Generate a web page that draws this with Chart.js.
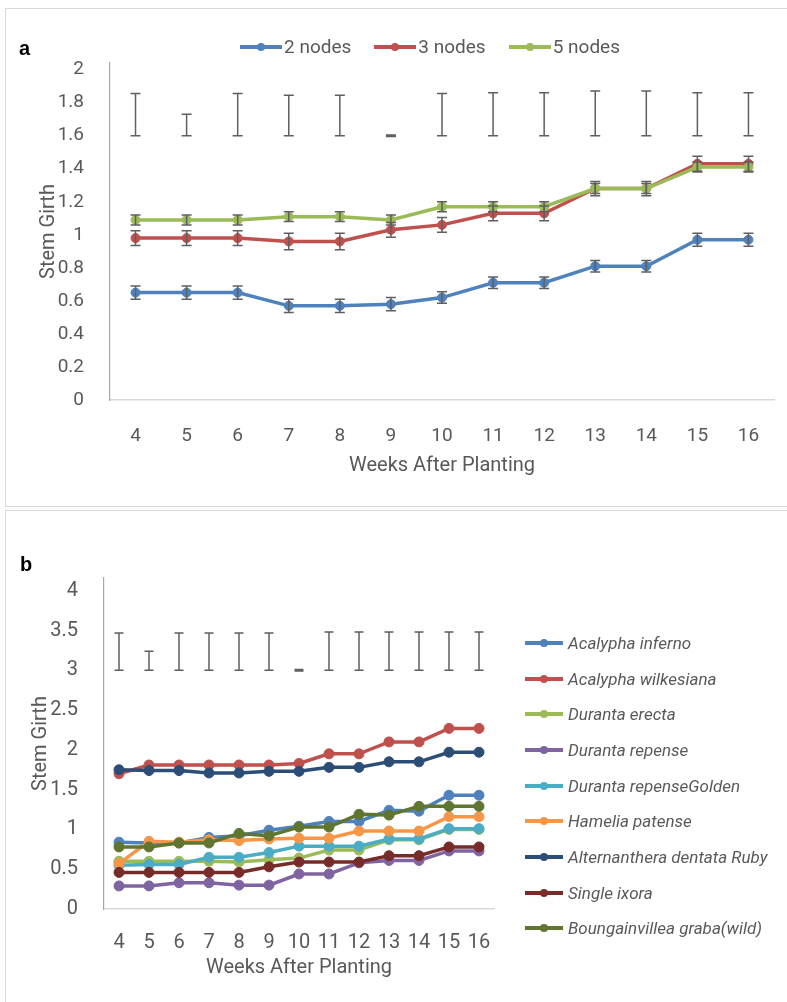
<!DOCTYPE html>
<html>
<head>
<meta charset="utf-8">
<title>Stem Girth</title>
<script src="https://cdn.jsdelivr.net/npm/chart.js@4.4.1/dist/chart.umd.min.js"></script>
<style>
    body { margin: 0; background: #fff; font-family: Roboto, sans-serif; }
    .page { position: relative; width: 787px; height: 1002px; overflow: hidden; }
    .panel { position: absolute; left: 5px; right: -10px; border: 1px solid #d9d9d9; }
    #panelA { top: 8px; height: 497px; }
    #panelB { top: 510px; height: 520px; }
    .box { position: absolute; left: 0; width: 787px; }
    #boxA { top: 0; height: 505px; }
    #boxB { top: 510px; height: 492px; }
    .tag { position: absolute; font: bold 20px "Liberation Sans", Arial, sans-serif; line-height: 20px; color: #000; }
    .legend { position: absolute; color: #595959; }
    .item { display: flex; align-items: center; white-space: nowrap; }
    .mark { position: relative; height: 10px; flex: none; }
    .mark i { position: absolute; left: 0; right: 0; top: 3px; height: 4px; }
    .mark b { position: absolute; top: 1px; width: 8px; height: 8px; border-radius: 50%; }
    #legendA { left: 240px; top: 36px; display: flex; gap: 23px; font-size: 19px; line-height: 22px; }
    #legendA .mark { width: 42px; margin-right: 2px; }
    #legendA .mark b { left: 17px; }
    #legendB { left: 525px; top: 625px; font-size: 17px; font-style: italic; }
    #legendB .item { height: 35.7px; }
    #legendB .mark { width: 38px; margin-right: 5px; }
    #legendB .mark b { left: 15px; }
</style>
</head>
<body>
<div class="page">
    <div class="panel" id="panelA"></div>
    <div class="panel" id="panelB"></div>
    <div class="box" id="boxA"><canvas id="chartA"></canvas></div>
    <div class="box" id="boxB"><canvas id="chartB"></canvas></div>
    <div class="tag" style="left:19px; top:38px;">a</div>
    <div class="tag" style="left:20px; top:554px;">b</div>
    <div class="legend" id="legendA"></div>
    <div class="legend" id="legendB"></div>
</div>
<script>
// ---- data: panel a (node number) ----
const weeks = ['4', '5', '6', '7', '8', '9', '10', '11', '12', '13', '14', '15', '16'];
const nodeNames = ['2 nodes', '3 nodes', '5 nodes'];
const nodeColors = ['#4F81BD', '#C0504D', '#9BBB59'];
const girth2Nodes = [0.65, 0.65, 0.65, 0.57, 0.57, 0.58, 0.62, 0.71, 0.71, 0.81, 0.81, 0.97, 0.97];
const girth3Nodes = [0.98, 0.98, 0.98, 0.96, 0.96, 1.03, 1.06, 1.13, 1.13, 1.28, 1.28, 1.43, 1.43];
const girth5Nodes = [1.09, 1.09, 1.09, 1.11, 1.11, 1.09, 1.17, 1.17, 1.17, 1.28, 1.28, 1.41, 1.41];
const err2Nodes = [0.04, 0.04, 0.04, 0.04, 0.04, 0.04, 0.035, 0.035, 0.035, 0.035, 0.035, 0.04, 0.04];
const err3Nodes = [0.045, 0.045, 0.045, 0.05, 0.05, 0.045, 0.045, 0.045, 0.045, 0.043, 0.043, 0.045, 0.045];
const err5Nodes = [0.03, 0.03, 0.03, 0.03, 0.03, 0.03, 0.03, 0.03, 0.03, 0.03, 0.03, 0.03, 0.03];
const lsdBaseA = 1.6;
const lsdA = [0.255, 0.13, 0.255, 0.245, 0.245, 0, 0.255, 0.26, 0.26, 0.27, 0.27, 0.26, 0.26];
const yTicksA = [0, 0.2, 0.4, 0.6, 0.8, 1, 1.2, 1.4, 1.6, 1.8, 2];

// ---- data: panel b (species) ----
const species = ['Acalypha inferno', 'Acalypha wilkesiana', 'Duranta erecta', 'Duranta repense',
    'Duranta repenseGolden', 'Hamelia patense', 'Alternanthera dentata Ruby', 'Single ixora',
    'Boungainvillea graba(wild)'];
const speciesColors = ['#4F81BD', '#C0504D', '#9BBB59', '#8064A2', '#4BACC6', '#F79646', '#2C4D75', '#772C2A', '#5F7530'];
const acalyphaInferno = [0.84, 0.83, 0.83, 0.90, 0.92, 0.99, 1.04, 1.10, 1.10, 1.24, 1.23, 1.43, 1.43];
const acalyphaWilkesiana = [1.70, 1.81, 1.81, 1.81, 1.81, 1.81, 1.83, 1.95, 1.95, 2.10, 2.10, 2.27, 2.27];
const durantaErecta = [0.60, 0.60, 0.60, 0.60, 0.59, 0.62, 0.64, 0.74, 0.74, 0.87, 0.87, 1.00, 1.00];
const durantaRepense = [0.29, 0.29, 0.33, 0.33, 0.30, 0.30, 0.44, 0.44, 0.58, 0.61, 0.61, 0.73, 0.73];
const durantaGolden = [0.55, 0.56, 0.56, 0.65, 0.65, 0.71, 0.79, 0.79, 0.79, 0.88, 0.88, 1.01, 1.01];
const hameliaPatense = [0.57, 0.85, 0.84, 0.87, 0.86, 0.88, 0.89, 0.89, 0.98, 0.98, 0.98, 1.16, 1.16];
const alternanthera = [1.75, 1.74, 1.74, 1.71, 1.71, 1.73, 1.73, 1.78, 1.78, 1.85, 1.85, 1.97, 1.97];
const singleIxora = [0.46, 0.46, 0.46, 0.46, 0.46, 0.53, 0.59, 0.59, 0.59, 0.67, 0.67, 0.78, 0.78];
const bougainvillea = [0.78, 0.78, 0.83, 0.83, 0.95, 0.92, 1.03, 1.03, 1.19, 1.18, 1.29, 1.29, 1.29];
const lsdBaseB = 3;
const lsdB = [0.47, 0.24, 0.47, 0.47, 0.47, 0.47, 0, 0.48, 0.48, 0.48, 0.48, 0.48, 0.48];
const yTicksB = [0, 0.5, 1, 1.5, 2, 2.5, 3, 3.5, 4];

const TEXT = '#595959';
Chart.defaults.font.family = 'Roboto';
Chart.defaults.color = TEXT;

// error bars (line series) and floating LSD bars, drawn through the chart scales
function makeErrorBars(series, lsdBase, lsd, cap) {
    return {
        id: 'errorBars',
        afterDatasetsDraw(chart) {
            const { ctx, scales: { x, y } } = chart;
            const bar = (i, lo, hi) => {
                const px = x.getPixelForValue(i);
                const top = y.getPixelForValue(hi);
                const bot = y.getPixelForValue(lo);
                ctx.beginPath();
                ctx.moveTo(px, top); ctx.lineTo(px, bot);
                ctx.moveTo(px - cap, top); ctx.lineTo(px + cap, top);
                ctx.moveTo(px - cap, bot); ctx.lineTo(px + cap, bot);
                ctx.stroke();
            };
            ctx.save();
            ctx.strokeStyle = '#5f5f5f';
            ctx.lineWidth = 1.5;
            for (const s of series) {
                s.values.forEach((v, i) => bar(i, v - s.err[i], v + s.err[i]));
            }
            lsd.forEach((d, i) => {
                if (d === 0) {
                    ctx.lineWidth = 3;
                    bar(i, lsdBase, lsdBase);
                    ctx.lineWidth = 1.5;
                } else {
                    bar(i, lsdBase, lsdBase + d);
                }
            });
            ctx.restore();
        }
    };
}

function buildLegend(el, names, colors) {
    names.forEach((name, i) => {
        const item = document.createElement('div');
        item.className = 'item';
        item.innerHTML = `<span class="mark"><i style="background:${colors[i]}"></i><b style="background:${colors[i]}"></b></span><span>${name}</span>`;
        el.appendChild(item);
    });
}

function axisFont(size) {
    return { family: 'Roboto', size: size };
}

/*=========================== chart a ===========================*/
const nodeSeries = [girth2Nodes, girth3Nodes, girth5Nodes];
const nodeErrors = [err2Nodes, err3Nodes, err5Nodes];

new Chart(document.getElementById('chartA'), {
    type: 'line',
    data: {
        labels: weeks,
        datasets: nodeSeries.map((values, i) => ({
            label: nodeNames[i],
            data: values,
            borderColor: nodeColors[i],
            backgroundColor: nodeColors[i],
            pointBackgroundColor: nodeColors[i],
            pointBorderColor: nodeColors[i],
            borderWidth: 3.5,
            pointRadius: 4.5,
            pointBorderWidth: 1,
            order: nodeSeries.length - i
        }))
    },
    options: {
        responsive: true,
        maintainAspectRatio: false,
        animation: false,
        layout: { padding: { left: 10, right: 13, top: 63, bottom: 0 } },
        plugins: { legend: { display: false }, tooltip: { enabled: false } },
        scales: {
            x: {
                offset: true,
                grid: { display: false },
                border: { color: '#d9d9d9', width: 1.5 },
                ticks: { font: axisFont(19), color: TEXT, padding: 17, autoSkip: false, maxRotation: 0 },
                title: { display: true, text: 'Weeks After Planting', font: axisFont(20), color: TEXT, padding: { top: 0, bottom: 27 } },
                afterFit: (scale) => { scale.height = 105; }
            },
            y: {
                min: 0,
                max: 2.04,
                grid: { display: false },
                border: { color: '#a6a6a6', width: 1.2 },
                afterBuildTicks: (scale) => { scale.ticks = yTicksA.map(v => ({ value: v })); },
                ticks: { font: axisFont(19), color: TEXT, padding: 18, callback: (v) => String(v) },
                title: { display: true, text: 'Stem Girth', font: axisFont(20), color: TEXT, padding: { top: 27, bottom: 0 } },
                afterFit: (scale) => { scale.width = 100; }
            }
        }
    },
    plugins: [makeErrorBars(
        nodeSeries.map((values, i) => ({ values, err: nodeErrors[i] })),
        lsdBaseA, lsdA, 5)]
});

/*=========================== chart b ===========================*/
const speciesSeries = [acalyphaInferno, acalyphaWilkesiana, durantaErecta, durantaRepense,
    durantaGolden, hameliaPatense, alternanthera, singleIxora, bougainvillea];

new Chart(document.getElementById('chartB'), {
    type: 'line',
    data: {
        labels: weeks,
        datasets: speciesSeries.map((values, i) => ({
            label: species[i],
            data: values,
            borderColor: speciesColors[i],
            backgroundColor: speciesColors[i],
            pointBackgroundColor: speciesColors[i],
            pointBorderColor: speciesColors[i],
            borderWidth: 3.5,
            pointRadius: 5,
            pointBorderWidth: 1,
            order: speciesSeries.length - i
        }))
    },
    options: {
        responsive: true,
        maintainAspectRatio: false,
        animation: false,
        layout: { padding: { left: 4, right: 293, top: 68, bottom: 0 } },
        plugins: { legend: { display: false }, tooltip: { enabled: false } },
        scales: {
            x: {
                offset: true,
                grid: { display: false },
                border: { color: '#d9d9d9', width: 1.5 },
                ticks: { font: axisFont(20), color: TEXT, padding: 14, autoSkip: false, maxRotation: 0 },
                title: { display: true, text: 'Weeks After Planting', font: axisFont(20), color: TEXT, padding: { top: 0, bottom: 22 } },
                afterFit: (scale) => { scale.height = 93; }
            },
            y: {
                min: 0,
                max: 4.16,
                grid: { display: false },
                border: { color: '#a6a6a6', width: 1.2 },
                afterBuildTicks: (scale) => { scale.ticks = yTicksB.map(v => ({ value: v })); },
                ticks: { font: axisFont(20), color: TEXT, padding: 18, callback: (v) => String(v) },
                title: { display: true, text: 'Stem Girth', font: axisFont(20), color: TEXT, padding: { top: 25, bottom: 0 } },
                afterFit: (scale) => { scale.width = 100; }
            }
        }
    },
    plugins: [makeErrorBars([], lsdBaseB, lsdB, 4.5)]
});

buildLegend(document.getElementById('legendA'), nodeNames, nodeColors);
buildLegend(document.getElementById('legendB'), species, speciesColors);
</script>
</body>
</html>
